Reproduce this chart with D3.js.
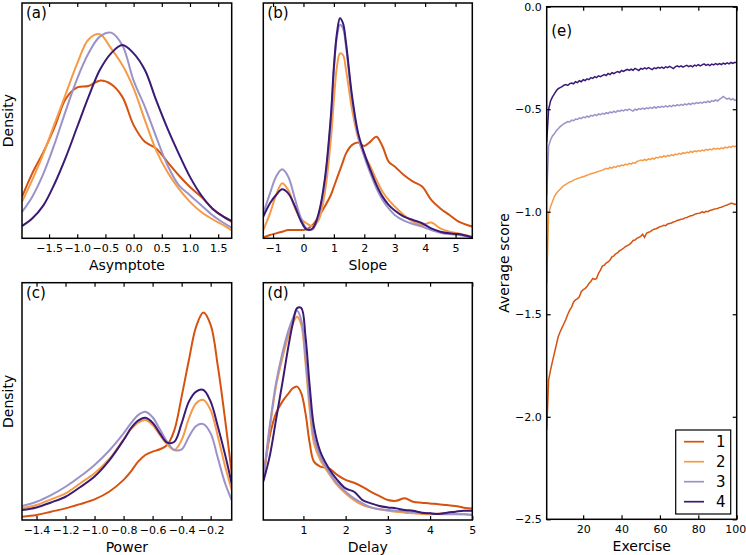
<!DOCTYPE html>
<html><head><meta charset="utf-8">
<script src="https://cdn.jsdelivr.net/npm/d3@7"></script>
<style>body{margin:0;background:#fff} svg{display:block} text{font-family:"DejaVu Sans",sans-serif;fill:#000}</style>
</head><body><svg id="c" width="746" height="555"></svg>
<script>
const seriesNames = ["1","2","3","4"];
const colors = ["#d5520f","#f59b47","#9a92c8","#3a1a75"];

// (a) Asymptote
const asymX = [-1.98,-1.8,-1.6,-1.4,-1.2,-1.0,-0.8,-0.6,-0.4,-0.2,0,0.2,0.4,0.6,0.8,1.0,1.2,1.4,1.6,1.74];
const asym1 = [0.176,0.275,0.367,0.474,0.594,0.641,0.647,0.670,0.655,0.601,0.481,0.410,0.382,0.325,0.268,0.218,0.176,0.126,0.091,0.070];
const asym2 = [0.155,0.247,0.360,0.488,0.616,0.743,0.845,0.867,0.807,0.736,0.637,0.502,0.374,0.282,0.211,0.155,0.112,0.081,0.055,0.034];
const asym3 = [0.112,0.176,0.275,0.403,0.545,0.679,0.786,0.857,0.874,0.820,0.670,0.559,0.431,0.311,0.226,0.183,0.140,0.098,0.065,0.045];
const asym4 = [0.052,0.084,0.140,0.233,0.346,0.474,0.601,0.715,0.786,0.821,0.786,0.715,0.587,0.467,0.360,0.261,0.183,0.126,0.091,0.074];

// (b) Slope
const slopeX = [-1.32,-1.1,-0.9,-0.7,-0.5,-0.3,-0.1,0.1,0.3,0.5,0.7,0.9,1.0,1.1,1.2,1.3,1.4,1.6,1.8,2.0,2.2,2.4,2.6,2.8,3.0,3.3,3.6,3.9,4.2,4.5,4.8,5.1,5.55];
const slope1 = [0.004,0.014,0.021,0.028,0.035,0.035,0.035,0.038,0.057,0.092,0.135,0.184,0.219,0.255,0.290,0.326,0.361,0.397,0.407,0.392,0.411,0.432,0.390,0.326,0.305,0.269,0.241,0.220,0.163,0.127,0.099,0.071,0.050];
const slope2 = [0.035,0.106,0.184,0.234,0.205,0.135,0.085,0.064,0.052,0.078,0.191,0.418,0.588,0.729,0.786,0.779,0.715,0.545,0.425,0.354,0.305,0.248,0.198,0.163,0.135,0.099,0.071,0.057,0.067,0.042,0.028,0.021,0.007];
const slope3 = [0.106,0.191,0.262,0.293,0.262,0.177,0.092,0.042,0.038,0.099,0.241,0.503,0.715,0.857,0.907,0.892,0.814,0.588,0.432,0.347,0.276,0.212,0.163,0.127,0.099,0.075,0.061,0.050,0.035,0.024,0.018,0.014,0.004];
const slope4 = [0.092,0.149,0.184,0.208,0.191,0.142,0.078,0.038,0.042,0.106,0.248,0.517,0.729,0.871,0.935,0.914,0.829,0.602,0.446,0.361,0.290,0.227,0.177,0.142,0.118,0.092,0.078,0.064,0.042,0.028,0.021,0.018,0.004];

// (c) Power
const powerX = [-1.5,-1.4,-1.3,-1.2,-1.1,-1.0,-0.9,-0.8,-0.75,-0.7,-0.65,-0.6,-0.55,-0.5,-0.45,-0.4,-0.35,-0.3,-0.25,-0.2,-0.15,-0.1,-0.055];
const power1 = [0.014,0.021,0.035,0.049,0.067,0.087,0.119,0.169,0.204,0.246,0.274,0.288,0.298,0.316,0.379,0.520,0.674,0.815,0.874,0.822,0.646,0.421,0.197];
const power2 = [0.049,0.063,0.087,0.112,0.154,0.197,0.256,0.340,0.382,0.410,0.421,0.400,0.358,0.319,0.295,0.337,0.428,0.492,0.506,0.463,0.351,0.225,0.126];
const power3 = [0.059,0.077,0.105,0.140,0.183,0.232,0.292,0.365,0.407,0.442,0.456,0.433,0.382,0.330,0.295,0.298,0.351,0.396,0.404,0.365,0.260,0.154,0.084];
const power4 = [0.042,0.053,0.074,0.098,0.138,0.183,0.250,0.337,0.386,0.419,0.431,0.410,0.365,0.326,0.330,0.407,0.499,0.541,0.548,0.499,0.393,0.274,0.154];

// (d) Delay
const delayX = [0.05,0.2,0.35,0.5,0.65,0.75,0.85,0.95,1.05,1.15,1.25,1.4,1.6,1.8,2.0,2.2,2.4,2.6,2.8,3.0,3.2,3.4,3.6,3.8,4.0,4.2,4.4,4.6,4.8,5.0];
const delay1 = [0.169,0.351,0.449,0.499,0.534,0.555,0.562,0.534,0.449,0.323,0.246,0.225,0.218,0.190,0.169,0.157,0.140,0.119,0.101,0.084,0.081,0.092,0.077,0.073,0.070,0.066,0.063,0.059,0.052,0.048];
const delay2 = [0.169,0.379,0.562,0.681,0.779,0.829,0.857,0.822,0.660,0.463,0.323,0.253,0.197,0.147,0.112,0.084,0.063,0.053,0.045,0.039,0.035,0.031,0.028,0.025,0.024,0.027,0.028,0.025,0.024,0.022];
const delay3 = [0.169,0.393,0.576,0.702,0.801,0.850,0.882,0.843,0.688,0.492,0.351,0.267,0.204,0.154,0.119,0.091,0.070,0.053,0.045,0.042,0.039,0.037,0.034,0.031,0.028,0.025,0.024,0.024,0.024,0.021];
const delay4 = [0.162,0.267,0.421,0.576,0.737,0.829,0.893,0.893,0.772,0.562,0.393,0.288,0.218,0.169,0.133,0.119,0.084,0.070,0.059,0.053,0.049,0.042,0.039,0.031,0.028,0.025,0.031,0.035,0.039,0.039];

// (e) Average score by exercise
const exercises = d3.range(1, 101);
const score1 = [-2.065,-1.82,-1.772,-1.73,-1.69,-1.65,-1.61,-1.585,-1.565,-1.545,
 -1.525,-1.5,-1.48,-1.465,-1.44,-1.43,-1.425,-1.415,-1.39,-1.38,
 -1.375,-1.365,-1.35,-1.34,-1.325,-1.33,-1.325,-1.3,-1.285,-1.265,
 -1.26,-1.25,-1.245,-1.235,-1.22,-1.215,-1.205,-1.2,-1.19,-1.185,
 -1.178,-1.17,-1.165,-1.16,-1.152,-1.14,-1.138,-1.13,-1.125,-1.12,
 -1.11,-1.125,-1.105,-1.1,-1.097,-1.09,-1.085,-1.083,-1.078,-1.073,
 -1.07,-1.066,-1.068,-1.06,-1.057,-1.055,-1.05,-1.047,-1.043,-1.04,
 -1.037,-1.035,-1.03,-1.028,-1.024,-1.02,-1.018,-1.013,-1.01,-1.008,
 -1.006,-1.0,-1.004,-0.998,-1.0,-0.994,-0.992,-0.988,-0.986,-0.984,
 -0.98,-0.978,-0.974,-0.97,-0.967,-0.963,-0.959,-0.96,-0.964,-0.962];
const score2 = [-1.35,-1.01,-0.975,-0.95,-0.926,-0.91,-0.9,-0.89,-0.88,-0.872,
 -0.866,-0.86,-0.855,-0.852,-0.846,-0.842,-0.838,-0.835,-0.832,-0.829,
 -0.826,-0.822,-0.819,-0.815,-0.812,-0.81,-0.806,-0.803,-0.8,-0.797,
 -0.793,-0.788,-0.791,-0.784,-0.787,-0.78,-0.784,-0.776,-0.779,-0.772,
 -0.775,-0.768,-0.772,-0.764,-0.768,-0.76,-0.764,-0.755,-0.752,-0.748,
 -0.751,-0.745,-0.749,-0.742,-0.746,-0.739,-0.743,-0.735,-0.738,-0.731,
 -0.735,-0.728,-0.732,-0.725,-0.729,-0.722,-0.726,-0.719,-0.722,-0.715,
 -0.719,-0.712,-0.716,-0.709,-0.713,-0.706,-0.71,-0.703,-0.707,-0.702,
 -0.705,-0.699,-0.703,-0.696,-0.7,-0.694,-0.698,-0.691,-0.695,-0.691,
 -0.694,-0.688,-0.692,-0.685,-0.689,-0.682,-0.686,-0.68,-0.683,-0.678];
const score3 = [-0.92,-0.68,-0.65,-0.63,-0.62,-0.605,-0.595,-0.585,-0.578,-0.57,
 -0.566,-0.56,-0.562,-0.553,-0.556,-0.548,-0.55,-0.542,-0.546,-0.538,
 -0.541,-0.534,-0.538,-0.53,-0.534,-0.526,-0.531,-0.523,-0.527,-0.52,
 -0.524,-0.517,-0.521,-0.513,-0.518,-0.51,-0.515,-0.507,-0.511,-0.504,
 -0.508,-0.502,-0.506,-0.499,-0.504,-0.509,-0.5,-0.504,-0.497,-0.501,
 -0.495,-0.5,-0.493,-0.497,-0.491,-0.496,-0.489,-0.494,-0.487,-0.491,
 -0.486,-0.49,-0.484,-0.489,-0.482,-0.487,-0.48,-0.485,-0.478,-0.483,
 -0.476,-0.481,-0.474,-0.479,-0.472,-0.477,-0.47,-0.474,-0.468,-0.472,
 -0.466,-0.47,-0.464,-0.468,-0.461,-0.466,-0.458,-0.462,-0.455,-0.46,
 -0.452,-0.446,-0.438,-0.445,-0.451,-0.446,-0.454,-0.449,-0.457,-0.453];
const score4 = [-0.66,-0.50,-0.46,-0.44,-0.425,-0.41,-0.40,-0.395,-0.39,-0.383,
 -0.38,-0.384,-0.375,-0.372,-0.376,-0.366,-0.37,-0.361,-0.366,-0.356,
 -0.36,-0.352,-0.356,-0.346,-0.35,-0.341,-0.346,-0.337,-0.341,-0.336,
 -0.331,-0.336,-0.326,-0.331,-0.322,-0.326,-0.32,-0.316,-0.321,-0.311,
 -0.316,-0.31,-0.306,-0.311,-0.305,-0.31,-0.301,-0.306,-0.311,-0.301,
 -0.305,-0.298,-0.303,-0.297,-0.302,-0.307,-0.298,-0.302,-0.296,-0.3,
 -0.295,-0.301,-0.293,-0.297,-0.291,-0.296,-0.302,-0.293,-0.288,-0.294,
 -0.289,-0.295,-0.29,-0.286,-0.292,-0.287,-0.293,-0.285,-0.289,-0.283,
 -0.289,-0.284,-0.279,-0.286,-0.281,-0.287,-0.28,-0.284,-0.278,-0.283,
 -0.277,-0.282,-0.275,-0.28,-0.274,-0.279,-0.272,-0.277,-0.271,-0.274];

const asymTicks = [-1.5,-1,-0.5,0,0.5,1,1.5];
const slopeTicks = [-1,0,1,2,3,4,5];
const powerTicks = [-1.4,-1.2,-1.0,-0.8,-0.6,-0.4,-0.2];
const delayTicks = [1,2,3,4,5];
const exerciseTicks = [20,40,60,80,100];
const scoreTicks = [0,-0.5,-1.0,-1.5,-2.0,-2.5];

const svg = d3.select("#c");
let clipId = 0;

function styleAxis(g) {
  g.select(".domain").remove();
  g.selectAll(".tick line").attr("stroke","#000").attr("stroke-width",1.2);
  g.selectAll(".tick text").attr("font-size","11px").attr("font-family","DejaVu Sans");
}

function frame(box) {
  svg.append("rect").attr("x",box.x0).attr("y",box.y0)
    .attr("width",box.x1-box.x0).attr("height",box.y1-box.y0)
    .attr("fill","none").attr("stroke","#000").attr("stroke-width",1.5);
}

function densityPanel(box, xDomain, ticks, fmt, xs, ysList, tag, xLabel, yLabel) {
  const x = d3.scaleLinear().domain(xDomain).range([box.x0, box.x1]);
  const y = d3.scaleLinear().domain([0,1]).range([box.y1, box.y0]);
  const id = "clip" + (clipId++);
  svg.append("clipPath").attr("id",id).append("rect")
    .attr("x",box.x0).attr("y",box.y0).attr("width",box.x1-box.x0).attr("height",box.y1-box.y0);
  const line = d3.line().x(d=>x(d[0])).y(d=>y(d[1])).curve(d3.curveCatmullRom.alpha(0.5));
  const g = svg.append("g").attr("clip-path",`url(#${id})`);
  ysList.forEach((ys,i)=>{
    g.append("path").datum(xs.map((v,j)=>[v,ys[j]]))
      .attr("d",line).attr("fill","none").attr("stroke",colors[i]).attr("stroke-width",2);
  });
  svg.append("g").attr("transform",`translate(0,${box.y1})`)
    .call(d3.axisBottom(x).tickValues(ticks).tickFormat(fmt).tickSize(-4).tickPadding(6)).call(styleAxis);
  svg.append("g").attr("transform",`translate(0,${box.y0})`)
    .call(d3.axisTop(x).tickValues(ticks).tickFormat("").tickSize(-4)).call(styleAxis);
  frame(box);
  svg.append("text").attr("x",box.x0+4).attr("y",box.y0+15).attr("font-size","15px").text(tag);
  svg.append("text").attr("x",(box.x0+box.x1)/2).attr("y",box.y1+32).attr("text-anchor","middle")
    .attr("font-size","14px").text(xLabel);
  if (yLabel) {
    svg.append("text").attr("transform",`translate(13,${(box.y0+box.y1)/2}) rotate(-90)`)
      .attr("text-anchor","middle").attr("font-size","14px").text(yLabel);
  }
}

const f1 = d3.format(".1f"), f0 = d3.format("d");
densityPanel({x0:22,x1:231.7,y0:3,y1:238.3},[-1.98,1.74],asymTicks,f1,asymX,[asym1,asym2,asym3,asym4],"(a)","Asymptote","Density");
densityPanel({x0:263.3,x1:472.3,y0:3,y1:238.3},[-1.32,5.55],slopeTicks,f0,slopeX,[slope1,slope2,slope3,slope4],"(b)","Slope",null);
densityPanel({x0:22,x1:231.7,y0:282.7,y1:520},[-1.5,-0.055],powerTicks,f1,powerX,[power1,power2,power3,power4],"(c)","Power","Density");
densityPanel({x0:263.3,x1:472.3,y0:282.7,y1:520},[0.05,5],delayTicks,f0,delayX,[delay1,delay2,delay3,delay4],"(d)","Delay",null);

// Panel (e)
{
  const box = {x0:546.7,x1:736.7,y0:6.7,y1:519.3};
  const x = d3.scaleLinear().domain([1,100]).range([box.x0,box.x1]);
  const y = d3.scaleLinear().domain([-2.5,0]).range([box.y1,box.y0]);
  const line = d3.line().x((d,i)=>x(exercises[i])).y(d=>y(d));
  [score1,score2,score3,score4].forEach((s,i)=>{
    svg.append("path").datum(s).attr("d",line).attr("fill","none")
      .attr("stroke",colors[i]).attr("stroke-width",1.5);
  });
  const bx = svg.append("g").attr("transform",`translate(0,${box.y1})`)
    .call(d3.axisBottom(x).tickValues(exerciseTicks).tickFormat(f0).tickSize(-4).tickPadding(6)).call(styleAxis);
  bx.selectAll(".tick text").filter(d=>d===100).attr("text-anchor","end").attr("x",9);
  svg.append("g").attr("transform",`translate(0,${box.y0})`)
    .call(d3.axisTop(x).tickValues(exerciseTicks).tickFormat("").tickSize(-4)).call(styleAxis);
  svg.append("g").attr("transform",`translate(${box.x0},0)`)
    .call(d3.axisLeft(y).tickValues(scoreTicks).tickFormat(f1).tickSize(-4).tickPadding(5)).call(styleAxis);
  svg.append("g").attr("transform",`translate(${box.x1},0)`)
    .call(d3.axisRight(y).tickValues(scoreTicks).tickFormat("").tickSize(-4)).call(styleAxis);
  frame(box);
  svg.append("text").attr("x",box.x0+4.5).attr("y",box.y0+29).attr("font-size","15px").text("(e)");
  svg.append("text").attr("x",(box.x0+box.x1)/2).attr("y",box.y1+32).attr("text-anchor","middle")
    .attr("font-size","14px").text("Exercise");
  svg.append("text").attr("transform",`translate(509,${(box.y0+box.y1)/2}) rotate(-90)`)
    .attr("text-anchor","middle").attr("font-size","14px").text("Average score");

  // legend
  const lg = svg.append("g");
  lg.append("rect").attr("x",675.7).attr("y",430).attr("width",55).attr("height",84)
    .attr("fill","#fff").attr("stroke","#000").attr("stroke-width",1.2);
  seriesNames.forEach((n,i)=>{
    const yy = 441.7 + i*20;
    lg.append("line").attr("x1",684).attr("x2",704).attr("y1",yy).attr("y2",yy)
      .attr("stroke",colors[i]).attr("stroke-width",1.7);
    lg.append("text").attr("x",716).attr("y",yy+5.5).attr("font-size","15px").text(n);
  });
}
</script>
</body></html>
